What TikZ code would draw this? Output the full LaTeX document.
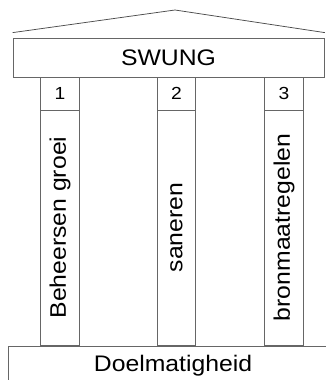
\documentclass[tikz,border=0pt]{standalone}
\usepackage{fontspec}
\setmainfont{Liberation Sans}[FakeStretch=1.1]

\tikzset{
  block/.style={draw=black!60, line width=0.75pt, inner sep=0pt},
  bigtext/.style={font=\fontsize{22.5}{26}\selectfont},
  numtext/.style={font=\fontsize{17.5}{20}\selectfont}
}

\begin{document}
\begin{tikzpicture}[x=1pt,y=1pt]
        \useasboundingbox (0,0) rectangle (325,380);

        % draw the base
        \node[block,bigtext,minimum width=330pt,minimum height=40pt] (base) at (173,14) {Doelmatigheid};

        % draw the top beam
        \node[block,bigtext,minimum width=311pt,minimum height=39pt] (swung) at (168.5,322.5) {SWUNG};

        % draw the roof
        \coordinate (apex) at (175,370);
        \draw[black!70,line width=0.75pt] ([yshift=5pt]swung.north west) -- (apex) -- ([yshift=5pt,xshift=0.5pt]swung.north east);

        %draw the pillars
        \foreach \x/\nr/\txt in {
            60/1/Beheersen groei,
            176.5/2/saneren,
            284/3/bronmaatregelen} {
                % number on top of each pillar
                \node[block,numtext,minimum width=38.5pt,minimum height=33pt] (num\nr) at (\x,286.5) {\nr};
                % the pillar itself
                \node[block,bigtext,rotate=90,minimum width=235pt,minimum height=38.5pt] (pillar\nr) at (\x,152.5) {\txt};
        }
    \end{tikzpicture}
\end{document}
